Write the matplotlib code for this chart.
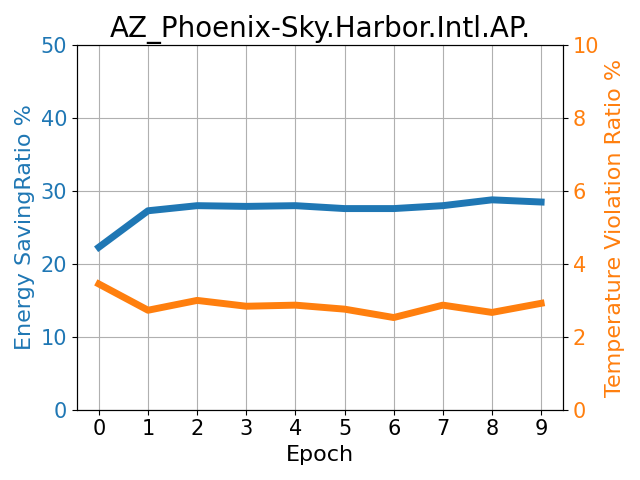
import matplotlib
matplotlib.use("Agg")
import matplotlib.pyplot as plt

epochs = list(range(10))
energy = [22.3, 27.3, 28.0, 27.9, 28.0, 27.6, 27.6, 28.0, 28.8, 28.5]
violation = [3.45, 2.73, 3.0, 2.84, 2.87, 2.76, 2.53, 2.87, 2.67, 2.92]

fig, ax = plt.subplots(figsize=(6.4, 4.8), dpi=100)
ax.plot(epochs, energy, color='tab:blue', lw=5)
ax.set_ylim(0, 50)
ax.set_xlabel('Epoch', fontsize=16)
ax.set_ylabel('Energy SavingRatio %', color='tab:blue', fontsize=16)
ax.tick_params(axis='y', labelcolor='tab:blue', labelsize=15)
ax.tick_params(axis='x', labelsize=15)
ax.set_xticks(epochs)
ax.grid(True)
ax2 = ax.twinx()
ax2.plot(epochs, violation, color='tab:orange', lw=5)
ax2.set_ylim(0, 10)
ax2.set_ylabel('Temperature Violation Ratio %', color='tab:orange', fontsize=16)
ax2.tick_params(axis='y', labelcolor='tab:orange', labelsize=15)
ax.set_title('AZ_Phoenix-Sky.Harbor.Intl.AP.', fontsize=20)
fig.tight_layout()
fig.savefig('out.png')
